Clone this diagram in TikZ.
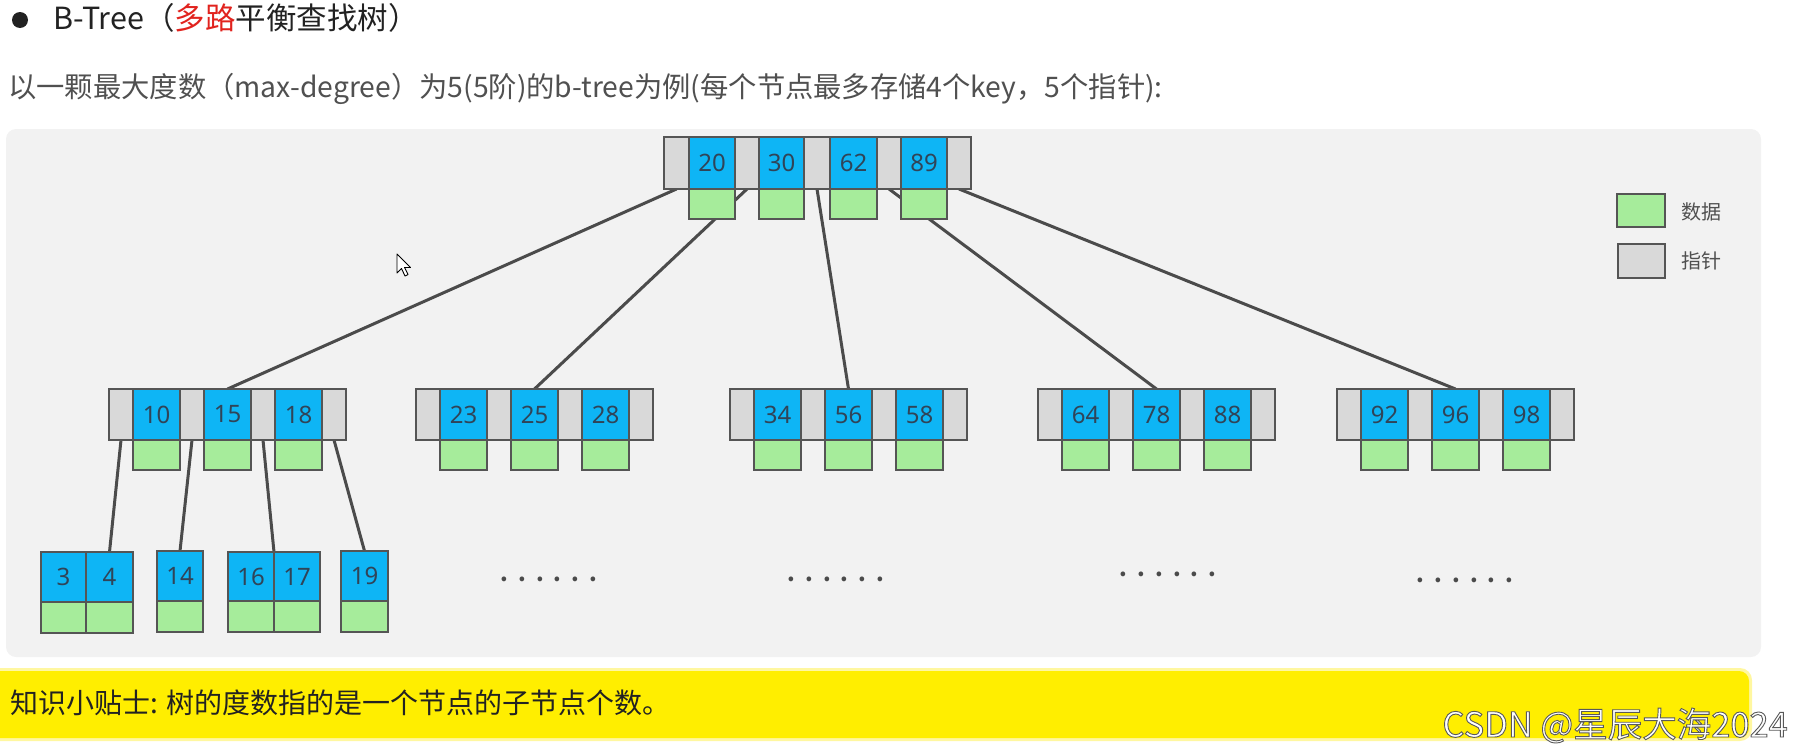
\documentclass[tikz,border=0pt]{standalone}
\usepackage{fontspec}
\setmainfont{Noto Sans CJK SC}
\newfontfamily\digitfont{Noto Sans}
\usetikzlibrary{backgrounds}

\definecolor{ptrgray}{RGB}{217,217,217}
\definecolor{keyblue}{RGB}{14,181,245}
\definecolor{datagreen}{RGB}{166,236,155}
\definecolor{cellline}{RGB}{85,85,85}
\definecolor{numcol}{RGB}{48,68,88}
\definecolor{linkcol}{RGB}{75,75,75}
\definecolor{panel}{RGB}{242,242,242}
\definecolor{tipyellow}{RGB}{255,238,0}
\definecolor{tipglow}{RGB}{255,247,160}
\definecolor{titlecol}{RGB}{34,34,34}
\definecolor{subcol}{RGB}{80,80,80}
\definecolor{hotred}{RGB}{225,35,30}

\pgfdeclarelayer{panellayer}
\pgfdeclarelayer{linklayer}
\pgfsetlayers{panellayer,linklayer,main}

% one rectangular cell: style, name, x-left, x-right, y-top, y-bottom, text
\newcommand\bcell[7]{\node[#1, minimum width={((#4)-(#3))*1pt}, minimum height={((#6)-(#5))*1pt}] (#2) at ({#3},{#5}) {#7};}
% a second-level node: name prefix, left x, three keys
\newcommand\midnode[5]{%
  \pgfmathsetmacro\xa{#2}%
  \bcell{ptr}{#10}{\xa}{\xa+24}{389}{440}{}
  \bcell{keyc}{#11}{\xa+24}{\xa+71}{389}{440}{#3}
  \bcell{ptr}{#1p1}{\xa+71}{\xa+95}{389}{440}{}
  \bcell{keyc}{#12}{\xa+95}{\xa+142}{389}{440}{#4}
  \bcell{ptr}{#1p2}{\xa+142}{\xa+166}{389}{440}{}
  \bcell{keyc}{#13}{\xa+166}{\xa+213}{389}{440}{#5}
  \bcell{ptr}{#1p3}{\xa+213}{\xa+237}{389}{440}{}
  \bcell{datc}{#11d}{\xa+24}{\xa+71}{440}{470}{}
  \bcell{datc}{#12d}{\xa+95}{\xa+142}{440}{470}{}
  \bcell{datc}{#13d}{\xa+166}{\xa+213}{440}{470}{}
}
\newcommand\sixdots{.\kern10pt.\kern10pt.\kern10pt.\kern10pt.\kern10pt.}

\tikzset{
  cellbase/.style={draw=cellline, line width=1.3pt, inner sep=0pt, outer sep=0pt, anchor=north west},
  ptr/.style={cellbase, fill=ptrgray},
  keyc/.style={cellbase, fill=keyblue, text=numcol, font=\digitfont\fontsize{24}{24}\selectfont},
  datc/.style={cellbase, fill=datagreen},
  link/.style={draw=linkcol, line width=3pt},
  dotrow/.style={anchor=base, text=linkcol, font=\bfseries\fontsize{22}{22}\selectfont},
  legendtxt/.style={anchor=west, text=subcol, font=\fontsize{20}{20}\selectfont},
}

\begin{document}
\begin{tikzpicture}[x=1pt,y=-1pt]
\useasboundingbox (0,0) rectangle (1795,755);

% header
\node[circle, fill=titlecol, minimum size=16pt, inner sep=0pt] (bullet) at (20,20) {};
\node[anchor=base west, text=titlecol, font=\fontsize{30.5}{30.5}\selectfont, inner sep=0pt] (title) at (53,29)
  {B-Tree（\textcolor{hotred}{多路}平衡查找树）};
\node[anchor=base west, text=subcol, font=\fontsize{28.3}{28.3}\selectfont, inner sep=0pt] (subtitle) at (8,97)
  {以一颗最大度数（max-degree）为5(5阶)的b-tree为例(每个节点最多存储4个key，5个指针):};

% grey panel
\begin{pgfonlayer}{panellayer}
  \fill[panel, rounded corners=10pt] (6,129) rectangle (1761,657);
\end{pgfonlayer}

% root node
\bcell{ptr}{r0}{664}{689}{137}{189}{}
\bcell{keyc}{r1}{689}{735}{137}{189}{20}
\bcell{ptr}{rp1}{735}{759}{137}{189}{}
\bcell{keyc}{r2}{759}{804}{137}{189}{30}
\bcell{ptr}{rp2}{804}{830}{137}{189}{}
\bcell{keyc}{r3}{830}{877}{137}{189}{62}
\bcell{ptr}{rp3}{877}{901}{137}{189}{}
\bcell{keyc}{r4}{901}{947}{137}{189}{89}
\bcell{ptr}{rp4}{947}{971}{137}{189}{}
\bcell{datc}{r1d}{689}{735}{189}{219}{}
\bcell{datc}{r2d}{759}{804}{189}{219}{}
\bcell{datc}{r3d}{830}{877}{189}{219}{}
\bcell{datc}{r4d}{901}{947}{189}{219}{}

% second level
\midnode{a}{109}{10}{15}{18}
\midnode{b}{416}{23}{25}{28}
\midnode{c}{730}{34}{56}{58}
\midnode{d}{1038}{64}{78}{88}
\midnode{e}{1337}{92}{96}{98}

% leaves
\bcell{keyc}{f1}{41}{86}{552}{602}{3}
\bcell{keyc}{f2}{86}{133}{552}{602}{4}
\bcell{datc}{f1d}{41}{86}{602}{633}{}
\bcell{datc}{f2d}{86}{133}{602}{633}{}
\bcell{keyc}{g1}{157}{203}{551}{601}{14}
\bcell{datc}{g1d}{157}{203}{601}{632}{}
\bcell{keyc}{h1}{228}{274}{552}{601}{16}
\bcell{keyc}{h2}{274}{320}{552}{601}{17}
\bcell{datc}{h1d}{228}{274}{601}{632}{}
\bcell{datc}{h2d}{274}{320}{601}{632}{}
\bcell{keyc}{k1}{341}{388}{551}{601}{19}
\bcell{datc}{k1d}{341}{388}{601}{632}{}

% elided subtrees
\node[dotrow] (dots1) at (549,581) {\sixdots};
\node[dotrow] (dots2) at (836,581) {\sixdots};
\node[dotrow] (dots3) at (1168,576) {\sixdots};
\node[dotrow] (dots4) at (1465,582) {\sixdots};

% child pointers
\begin{pgfonlayer}{linklayer}
  \draw[link] (r0.south) -- (a2.north);
  \draw[link] (rp1.south) -- (b2.north);
  \draw[link] (rp2.south) -- (c2.north);
  \draw[link] (rp3.south) -- (d2.north);
  \draw[link] (rp4.south) -- (e2.north);
  \draw[link] (a0.south) -- (f2.north);
  \draw[link] (ap1.south) -- (g1.north);
  \draw[link] (ap2.south) -- (h1.north east);
  \draw[link] (ap3.south) -- (k1.north);
\end{pgfonlayer}

% legend
\bcell{datc}{lg1}{1617}{1665}{194}{227}{}
\node[legendtxt] (lg1t) at (1678,212) {数据};
\bcell{ptr}{lg2}{1618}{1665}{244}{278}{}
\node[legendtxt] (lg2t) at (1678,261) {指针};

% mouse pointer
\filldraw[fill=white, draw=black, line width=0.9pt, line join=round]
  (397,254) -- (397,273) -- (401.5,268.5) -- (405,276) -- (408,274.5) -- (404.5,267.5) -- (410.5,267.5) -- cycle;

% tip bar
\fill[tipglow, rounded corners=12pt] (-20,668) rectangle (1752,741);
\fill[tipyellow, rounded corners=10pt] (-20,671) rectangle (1749,738);
\node[anchor=base west, text=titlecol, font=\fontsize{28}{28}\selectfont, inner sep=0pt] (tip) at (10,713)
  {知识小贴士: 树的度数指的是一个节点的子节点个数。};

% watermark
\node[anchor=base east, text=white, font=\fontsize{34.5}{34.5}\selectfont, inner sep=0pt] (mark) at (1788,737)
  {\special{pdf:literal direct 0.35 0.35 0.35 RG 0.9 w 2 Tr}CSDN @星辰大海2024\special{pdf:literal direct 0 Tr}};
\end{tikzpicture}
\end{document}
